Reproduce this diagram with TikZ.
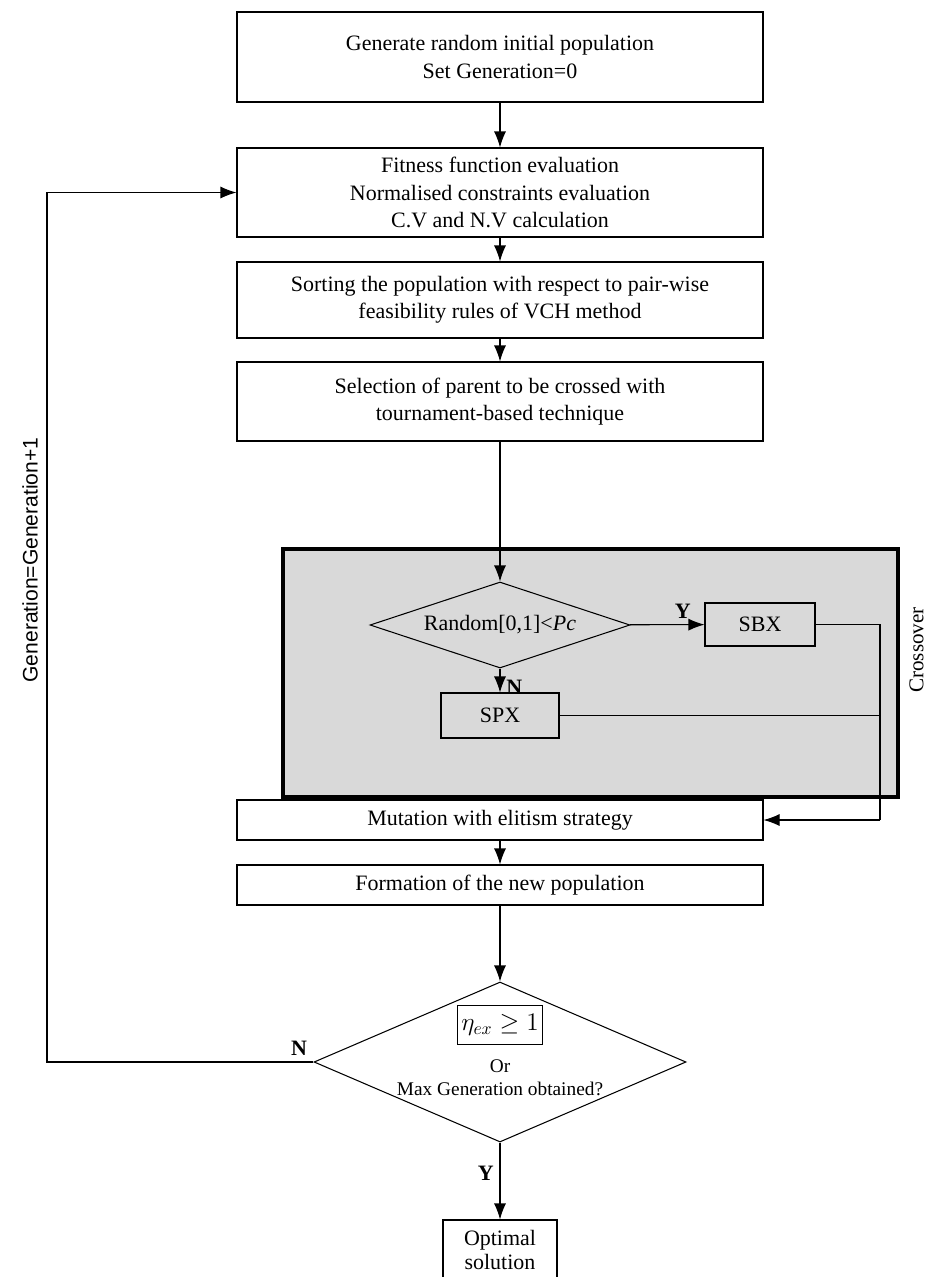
\documentclass[tikz,border=0pt]{standalone}
\usepackage{fontspec}
\setmainfont{Liberation Serif}
\newfontfamily\labelfont{Liberation Sans}
\usetikzlibrary{shapes.geometric,arrows.meta}
\newcommand{\etaex}{$\eta_{ex}\geq 1$}

\begin{document}
\begin{tikzpicture}[line width=0.6pt, >={Latex[length=3.2mm,width=2.4mm]},
    stage/.style={draw, minimum width=10.52cm, align=center, inner sep=2pt, font=\fontsize{12.5}{15.5}\selectfont},
    small/.style={draw, fill=black!15, align=center, inner sep=0pt, font=\fontsize{12.5}{15}\selectfont},
    decide/.style={draw, diamond, aspect=3, inner sep=0pt, font=\fontsize{12.5}{15}\selectfont},
    tag/.style={font=\bfseries\fontsize{12.5}{15}\selectfont}]
    \useasboundingbox (0,0) rectangle (18.54,-25.54);
    % crossover block
    \draw[line width=2pt, fill=black!15] (5.66,-10.98) rectangle (17.96,-15.94);
    \node[rotate=90, inner sep=0pt, font=\fontsize{12}{14}\selectfont] (cross) at (18.33,-13.0) {Crossover};
    % main column
    \node[stage, minimum height=1.8cm] (init) at (10,-1.14) {Generate random initial population\\Set Generation=0};
    \node[stage, minimum height=1.78cm] (fit) at (10,-3.85) {Fitness function evaluation\\Normalised constraints evaluation\\C.V and N.V calculation};
    \node[stage, minimum height=1.52cm] (sort) at (10,-6.0) {Sorting the population with respect to pair-wise\\feasibility rules of VCH method};
    \node[stage, minimum height=1.58cm] (sel) at (10,-8.03) {Selection of parent to be crossed with\\tournament-based technique};
    \node[decide, fill=black!15, minimum width=5.2cm, minimum height=1.72cm] (rnd) at (10,-12.5) {Random[0,1]<\textit{Pc}};
    \node[small, minimum width=2.2cm, minimum height=0.86cm] (sbx) at (15.2,-12.49) {SBX};
    \node[small, minimum width=2.36cm, minimum height=0.9cm] (spx) at (10,-14.31) {SPX};
    \node[stage, minimum height=0.8cm] (mut) at (10,-16.4) {Mutation with elitism strategy};
    \node[stage, minimum height=0.8cm] (form) at (10,-17.7) {Formation of the new population};
    \node[decide, minimum width=7.44cm, minimum height=3.2cm] (stop) at (10,-21.24) {};
    \node[draw, inner xsep=2pt, inner ysep=5pt, font=\fontsize{14.5}{17}\selectfont] (eta) at (10,-20.5) {\etaex};
    \node[align=center, font=\fontsize{11}{13}\selectfont] (ortxt) at (10,-21.55) {Or\\Max Generation obtained?};
    \node[draw, align=center, minimum width=2.28cm, minimum height=1.2cm, inner sep=1pt, font=\fontsize{12.5}{14}\selectfont] (opt) at (10,-25.0) {Optimal\\solution};
    \coordinate (right) at (17.6,-16.4);
    \coordinate (left) at (0.94,-21.24);
    % connectors
    \draw[->] (init) -- (fit);
    \draw[->] (fit) -- (sort);
    \draw[->] (sort) -- (sel);
    \draw[->] (sel) -- (rnd);
    \draw[->] (rnd) -- node[tag, above left, pos=0.9] {Y} (sbx);
    \draw[->] (rnd) -- node[tag, right, pos=0.8] {N} (spx);
    \draw (sbx.east) -| (right);
    \draw (spx.east) -- (spx.east -| right);
    \draw[->] (right) -- (mut);
    \draw[->] (mut) -- (form);
    \draw[->] (form) -- (stop);
    \draw[->] (stop) -- node[tag, left, pos=0.4] {Y} (opt);
    \draw[->] (stop.west) -- (left) |- (fit.west);
    \node[tag, above left] (ntag) at (stop.west) {N};
    \node[rotate=90, font=\labelfont\fontsize{12}{14}\selectfont] (gen) at (0.6,-11.2) {Generation=Generation+1};
\end{tikzpicture}
\end{document}
